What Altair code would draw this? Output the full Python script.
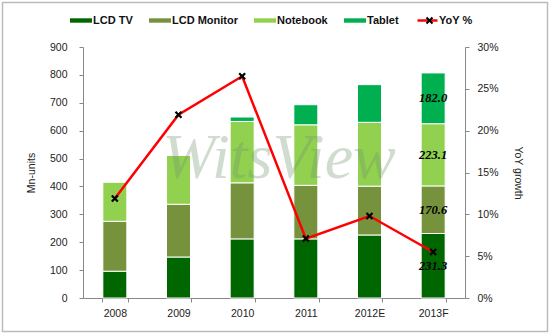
import altair as alt
import pandas as pd

years = ["2008", "2009", "2010", "2011", "2012E", "2013F"]
series = ["LCD TV", "LCD Monitor", "Notebook", "Tablet"]
lcd_tv = [96, 147, 212, 212, 226, 231.3]
lcd_monitor = [179, 189, 201, 192, 175, 170.6]
notebook = [141, 175, 220, 217, 229, 223.1]
tablet = [0, 0, 16, 72, 135, 182.0]
yoy = [0.119, 0.219, 0.265, 0.071, 0.098, 0.055]
label_year = "2013F"
colors = ["#006600", "#76923C", "#92D050", "#00B050"]

rows = []
for yi, y in enumerate(years):
    cum = 0
    for si, (s, vals) in enumerate(zip(series, [lcd_tv, lcd_monitor, notebook, tablet])):
        v = vals[yi]
        rows.append({"year": y, "series": s, "idx": si, "value": v,
                     "mid": cum + v / 2, "label": f"{v:.1f}"})
        cum += v
df = pd.DataFrame(rows)
df_lab = df[df["year"] == label_year]
df_yoy = pd.DataFrame({"year": years, "yoy": yoy, "s": ["YoY %"] * len(years)})

FONT = "Liberation Sans"
LFONT = "Liberation Sans"
xenc = alt.X("year:N", sort=years, title=None,
             scale=alt.Scale(paddingInner=0.6, paddingOuter=0.3),
             axis=alt.Axis(labelAngle=0, tickBand="extent", domainColor="#888888",
                           tickColor="#888888", tickSize=4, labelPadding=6,
                           labelFont=FONT, labelFontSize=10.5, labelColor="#222222"))

left_axis = alt.Axis(values=list(range(0, 901, 100)), title="Mn-units",
                     grid=False, domainColor="#888888", tickColor="#888888",
                     tickSize=4, labelPadding=12, labelFont=FONT, labelFontSize=10.5,
                     labelColor="#222222", titleFont=FONT, titleFontSize=10.5,
                     titleFontWeight="normal", titleColor="#222222", titlePadding=13,
                     labelOverlap=False)

right_axis = alt.Axis(orient="right", format=".0%",
                      values=[0, 0.05, 0.1, 0.15, 0.2, 0.25, 0.3],
                      title="YoY growth", grid=False, domainColor="#888888",
                      tickColor="#888888", tickSize=4, labelPadding=8,
                      labelFont=FONT, labelFontSize=10.5, labelColor="#222222",
                      titleFont=FONT, titleFontSize=10.5, titleFontWeight="normal",
                      titleColor="#222222", titlePadding=14, titleAngle=90,
                      labelOverlap=False)

bars = alt.Chart(df).mark_bar(size=24, stroke="white", strokeWidth=1).encode(
    x=xenc,
    y=alt.Y("value:Q", stack="zero", scale=alt.Scale(domain=[0, 900]), axis=left_axis),
    color=alt.Color("series:N", scale=alt.Scale(domain=series, range=colors),
                    legend=alt.Legend(orient="none", legendX=-13, legendY=-37.5,
                                      direction="horizontal", title=None,
                                      symbolType="M-1,-0.2L1,-0.2L1,0.2L-1,0.2Z",
                                      symbolSize=484, symbolStrokeWidth=0,
                                      labelFont=LFONT, labelFontSize=11,
                                      labelFontWeight="bold", labelColor="#111111",
                                      columnPadding=16, labelOffset=1)),
    order=alt.Order("idx:Q", sort="ascending"),
)

labels = alt.Chart(df_lab).mark_text(font="Liberation Serif", fontStyle="italic",
                                      fontWeight="bold", fontSize=12.5, color="black").encode(
    x=alt.X("year:N", sort=years),
    y=alt.Y("mid:Q", axis=left_axis),
    text="label:N",
)

wm = alt.Chart(pd.DataFrame({"t": ["WitsView"]})).mark_text(
    font="Liberation Serif", fontStyle="italic", fontSize=64, color="#6f956f",
    opacity=0.32, align="center", baseline="alphabetic").encode(
    x=alt.value(196), y=alt.value(131), text="t:N")

left = alt.layer(bars, labels)

line = alt.Chart(df_yoy).mark_line(strokeWidth=2.5).encode(
    x=alt.X("year:N", sort=years),
    y=alt.Y("yoy:Q", scale=alt.Scale(domain=[0, 0.3]), axis=right_axis),
    color=alt.Color("s:N", scale=alt.Scale(range=["#FF0000"]),
                    legend=alt.Legend(orient="none", legendX=333, legendY=-38,
                                      title=None, symbolType="M-1,0L1,0", symbolSize=400,
                                      symbolStrokeWidth=2.5, labelFont=LFONT,
                                      labelFontSize=11, labelFontWeight="bold",
                                      labelColor="#111111", labelOffset=0)),
)

xshape = "M-1,-1L1,1M-1,1L1,-1"
pts = alt.Chart(df_yoy).mark_point(filled=False, stroke="black", strokeWidth=2.2, size=36,
                                   opacity=1).encode(
    x=alt.X("year:N", sort=years),
    y=alt.Y("yoy:Q", scale=alt.Scale(domain=[0, 0.3]), axis=right_axis),
    shape=alt.Shape("s:N", scale=alt.Scale(range=[xshape]),
                    legend=alt.Legend(orient="none", legendX=341, legendY=-32, title=None,
                                      symbolSize=36, symbolStrokeColor="black",
                                      symbolStrokeWidth=2, labelExpr="''",
                                      labelFontSize=11, labelOpacity=0)),
)

right = alt.layer(line, pts)

frame = alt.Chart(pd.DataFrame({"a": [0]})).mark_rect(
    fill=None, stroke="#BBBBBB", strokeWidth=1.5).encode(
    x=alt.value(-80.5), x2=alt.value(464.5), y=alt.value(-44.5), y2=alt.value(284.5))

chart = alt.layer(left, wm, right, frame).resolve_scale(
    y="independent", color="independent", shape="independent"
).properties(
    width=382, height=251,
    autosize=alt.AutoSizeParams(type="none"),
    padding={"left": 83, "top": 47, "right": 85, "bottom": 37},
    background="white",
).configure_view(stroke=None)

chart.save("out.html", embed_options={"renderer": "svg", "actions": False})
